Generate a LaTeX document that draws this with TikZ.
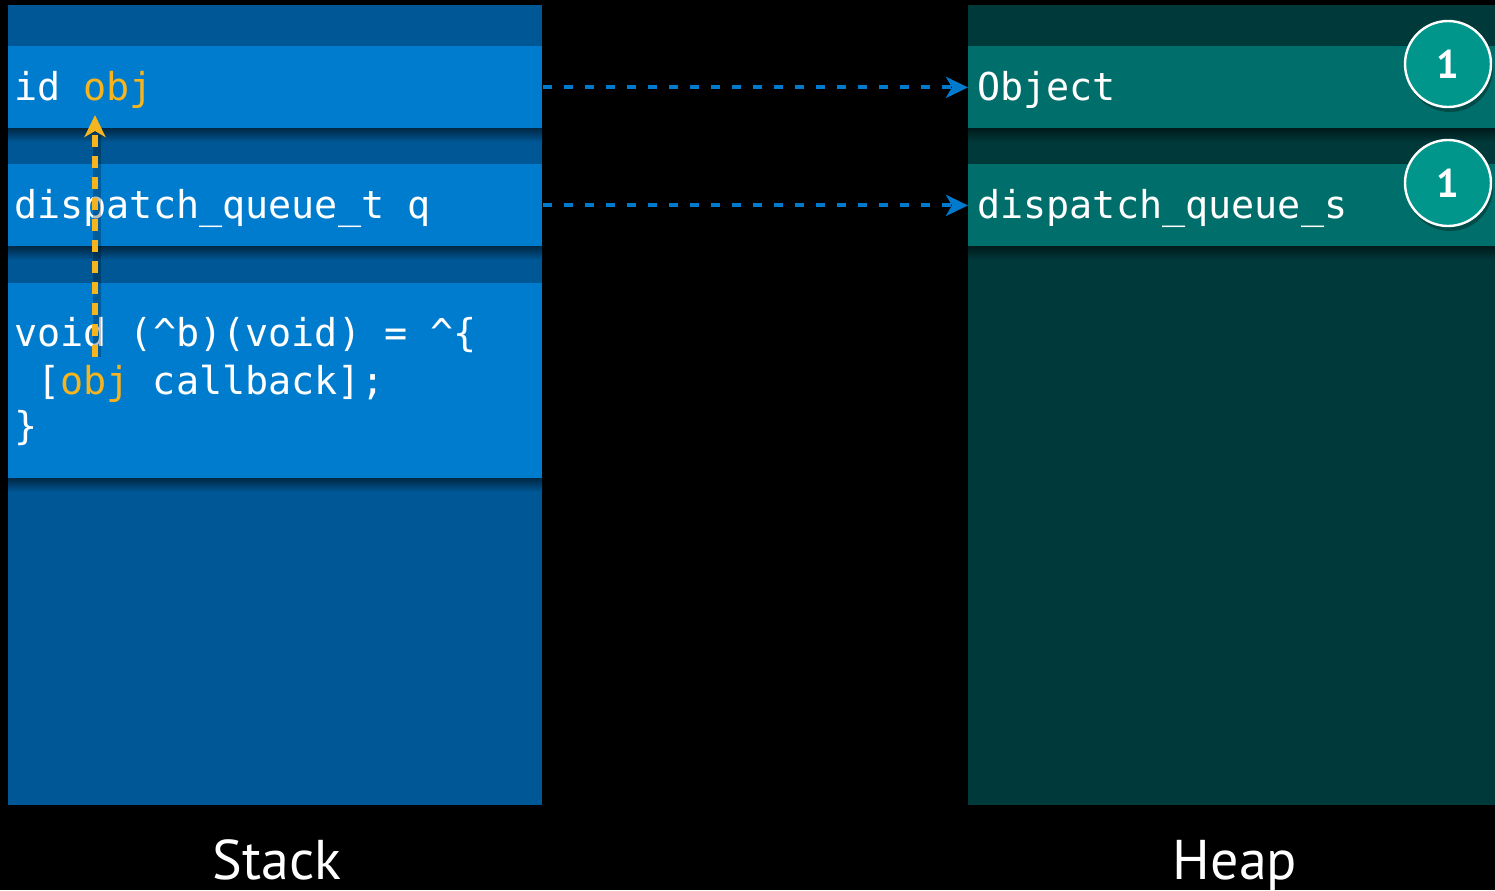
\documentclass[tikz,border=0pt]{standalone}
\usepackage{fontspec}
\setmonofont{DejaVu Sans Mono}
\newfontfamily\labelfont{PT Sans}
\usetikzlibrary{arrows.meta}
\definecolor{stackbg}{RGB}{0,87,150}
\definecolor{stackrow}{RGB}{0,124,206}
\definecolor{heapbg}{RGB}{0,57,58}
\definecolor{heaprow}{RGB}{0,110,106}
\definecolor{circfill}{RGB}{0,150,140}
\definecolor{ptrblue}{RGB}{0,122,204}
\definecolor{capyellow}{RGB}{246,180,30}
\tikzset{
  srow/.style={fill=stackrow, inner sep=0pt, minimum width=267pt, anchor=north west},
  hrow/.style={fill=heaprow, inner sep=0pt, minimum width=263.5pt, anchor=north west},
  code/.style={inner sep=0pt, anchor=base west, text=white, font=\fontsize{19.2}{23}\selectfont\ttfamily},
  caption/.style={inner sep=0pt, anchor=base, text=white, font=\fontsize{28}{34}\selectfont\labelfont},
  rc/.style={circle, fill=circfill, draw=white, line width=1.2pt, minimum size=43pt, inner sep=0pt, text=white, font=\fontsize{20}{22}\selectfont\labelfont\bfseries},
  bluearrow/.style={draw=ptrblue, line width=2pt, dash pattern=on 4.5pt off 6pt, -{Stealth[length=11pt,width=10.5pt,inset=3pt]}},
  yelarrow/.style={draw=capyellow, line width=2.6pt, dash pattern=on 6pt off 4.5pt, -{Stealth[length=11pt,width=10.5pt,inset=3pt]}},
}
\begin{document}
\begin{tikzpicture}[x=0.5pt,y=-0.5pt]
\useasboundingbox (0,0) rectangle (1495,890);
\fill[black] (0,0) rectangle (1495,890);
% panels
\fill[stackbg] (8,5) rectangle (542,805);
\fill[heapbg] (968,5) rectangle (1495,805);
% shadows
\shade[top color=black!55!stackbg, bottom color=stackbg] (8,128) rectangle (542,142);
\shade[top color=black!55!stackbg, bottom color=stackbg] (8,246) rectangle (542,260);
\shade[top color=black!55!stackbg, bottom color=stackbg] (8,478) rectangle (542,492);
\shade[top color=black!55!heapbg, bottom color=heapbg] (968,128) rectangle (1495,142);
\shade[top color=black!55!heapbg, bottom color=heapbg] (968,246) rectangle (1495,260);
% stack rows
\node[srow, minimum height=41pt] (s1) at (8,46) {};
\node[srow, minimum height=41pt] (s2) at (8,164) {};
\node[srow, minimum height=97.5pt] (s3) at (8,283) {};
% heap rows
\node[hrow, minimum height=41pt] (h1) at (968,46) {};
\node[hrow, minimum height=41pt] (h2) at (968,164) {};
% texts
\node[code] (t1) at (14,100) {id \textcolor{capyellow}{obj}};
\node[code] (t2) at (14,218) {dispatch\_queue\_t q};
\node[code] (t3) at (14,346) {void (\^{}b)(void) = \^{}\{};
\node[code] (t4) at (37,394) {[\textcolor{capyellow}{obj} callback];};
\node[code] (t5) at (14,439) {\}};
\node[code] (o1) at (977,100) {Object};
\node[code] (o2) at (977,218) {dispatch\_queue\_s};
% retain counts
\fill[black, opacity=0.3] (1450,69) circle (43);
\fill[black, opacity=0.3] (1450,188) circle (43);
\node[rc] (c1) at (1448,64) {1};
\node[rc] (c2) at (1448,183) {1};
% pointers
\draw[bluearrow] (s1.east) -- (h1.west);
\draw[bluearrow] (s2.east) -- (h2.west);
\coordinate (ys) at (95,357);
\coordinate (ye) at (95,115);
\draw[black, opacity=0.25, line width=4pt] (97,357) -- (97,135);
\draw[yelarrow] (ys) -- (ye);
% captions
\node[caption] (lstack) at (277,879) {Stack};
\node[caption] (lheap) at (1235,879) {Heap};
\end{tikzpicture}
\end{document}
